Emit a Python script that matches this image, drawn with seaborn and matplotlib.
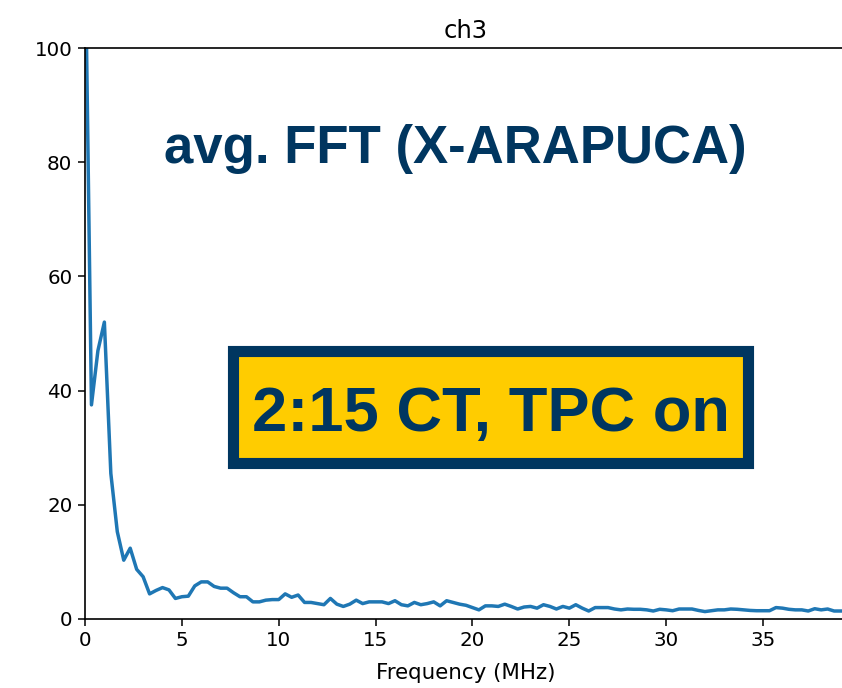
import numpy as np
import pandas as pd
import matplotlib
matplotlib.use("Agg")
import matplotlib.pyplot as plt
from matplotlib.patches import Rectangle
import seaborn as sns

# Averaged FFT magnitude of channel 3, one bin every 1/3 MHz
bin_width_mhz = 1.0 / 3.0
magnitude = [
    120.0, 37.5, 47.0, 52.0, 25.5, 15.3, 10.3, 12.4, 8.7, 7.4,
    4.4, 5.0, 5.5, 5.1, 3.6, 3.9, 4.0, 5.8, 6.5, 6.5,
    5.7, 5.4, 5.4, 4.6, 3.9, 3.9, 3.0, 3.0, 3.3, 3.4,
    3.4, 4.4, 3.8, 4.2, 2.9, 2.9, 2.7, 2.5, 3.6, 2.6,
    2.2, 2.6, 3.3, 2.7, 3.0, 3.0, 3.0, 2.7, 3.2, 2.5,
    2.3, 2.9, 2.5, 2.7, 3.0, 2.3, 3.2, 2.9, 2.6, 2.4,
    2.0, 1.6, 2.3, 2.3, 2.2, 2.6, 2.2, 1.75, 2.1, 2.2,
    1.9, 2.5, 2.2, 1.75, 2.2, 1.9, 2.5, 1.9, 1.4, 2.0,
    2.0, 2.0, 1.75, 1.6, 1.75, 1.7, 1.7, 1.6, 1.4, 1.7,
    1.6, 1.45, 1.75, 1.75, 1.75, 1.5, 1.3, 1.45, 1.6, 1.6,
    1.75, 1.7, 1.6, 1.5, 1.45, 1.45, 1.45, 2.0, 1.9, 1.7,
    1.6, 1.6, 1.4, 1.8, 1.6, 1.75, 1.4, 1.4, 1.4,
]
frequency = np.arange(len(magnitude)) * bin_width_mhz

x_ticks = [0, 5, 10, 15, 20, 25, 30, 35]
y_ticks = [0, 20, 40, 60, 80, 100]

channel_name = "ch3"
x_label = "Frequency (MHz)"
headline = "avg. FFT (X-ARAPUCA)"
status_note = "2:15 CT, TPC on"

navy = "#003660"
gold = "#FFCC00"
line_blue = "#1f77b4"

sns.set_theme(style="ticks")
plt.rcParams["font.family"] = ["DejaVu Sans"]

df = pd.DataFrame({"freq": frequency, "mag": magnitude})

fig = plt.figure(figsize=(8.42, 6.88), dpi=100)
ax = fig.add_axes([85 / 842, 1 - 619 / 688, (847 - 85) / 842, (619 - 48) / 688])

sns.lineplot(data=df, x="freq", y="mag", ax=ax, color=line_blue, linewidth=2.5)

ax.set_xlim(0, frequency[-1])
ax.set_ylim(0, 100)
ax.set_xticks(x_ticks)
ax.set_yticks(y_ticks)
ax.tick_params(axis="both", labelsize=14.3, length=5, width=1.1, color="black",
               labelcolor="black", direction="out", pad=4)
ax.set_xlabel(x_label, fontsize=15.4, color="black", labelpad=9)
ax.set_ylabel("")
ax.set_title(channel_name, fontsize=17.5, color="black", pad=7)
for side in ("left", "bottom", "top", "right"):
    ax.spines[side].set_color("black")
    ax.spines[side].set_linewidth(1.2)

bold_sans = ["Liberation Sans", "DejaVu Sans"]

fig.text(455 / 842, 1 - 163 / 688, headline, ha="center", va="baseline",
         fontsize=38, fontweight="bold", color=navy, family=bold_sans)

# framed status label
fig.patches.append(Rectangle((233.5 / 842, 1 - 462.5 / 688),
                             (747.5 - 233.5) / 842, (462.5 - 350.5) / 688,
                             transform=fig.transFigure, facecolor=gold,
                             edgecolor=navy, linewidth=8, zorder=5))
fig.text(491 / 842, 1 - 431 / 688, status_note, ha="center", va="baseline",
         fontsize=45.5, fontweight="bold", color=navy, family=bold_sans, zorder=6)

fig.savefig("out.png", dpi=100)
